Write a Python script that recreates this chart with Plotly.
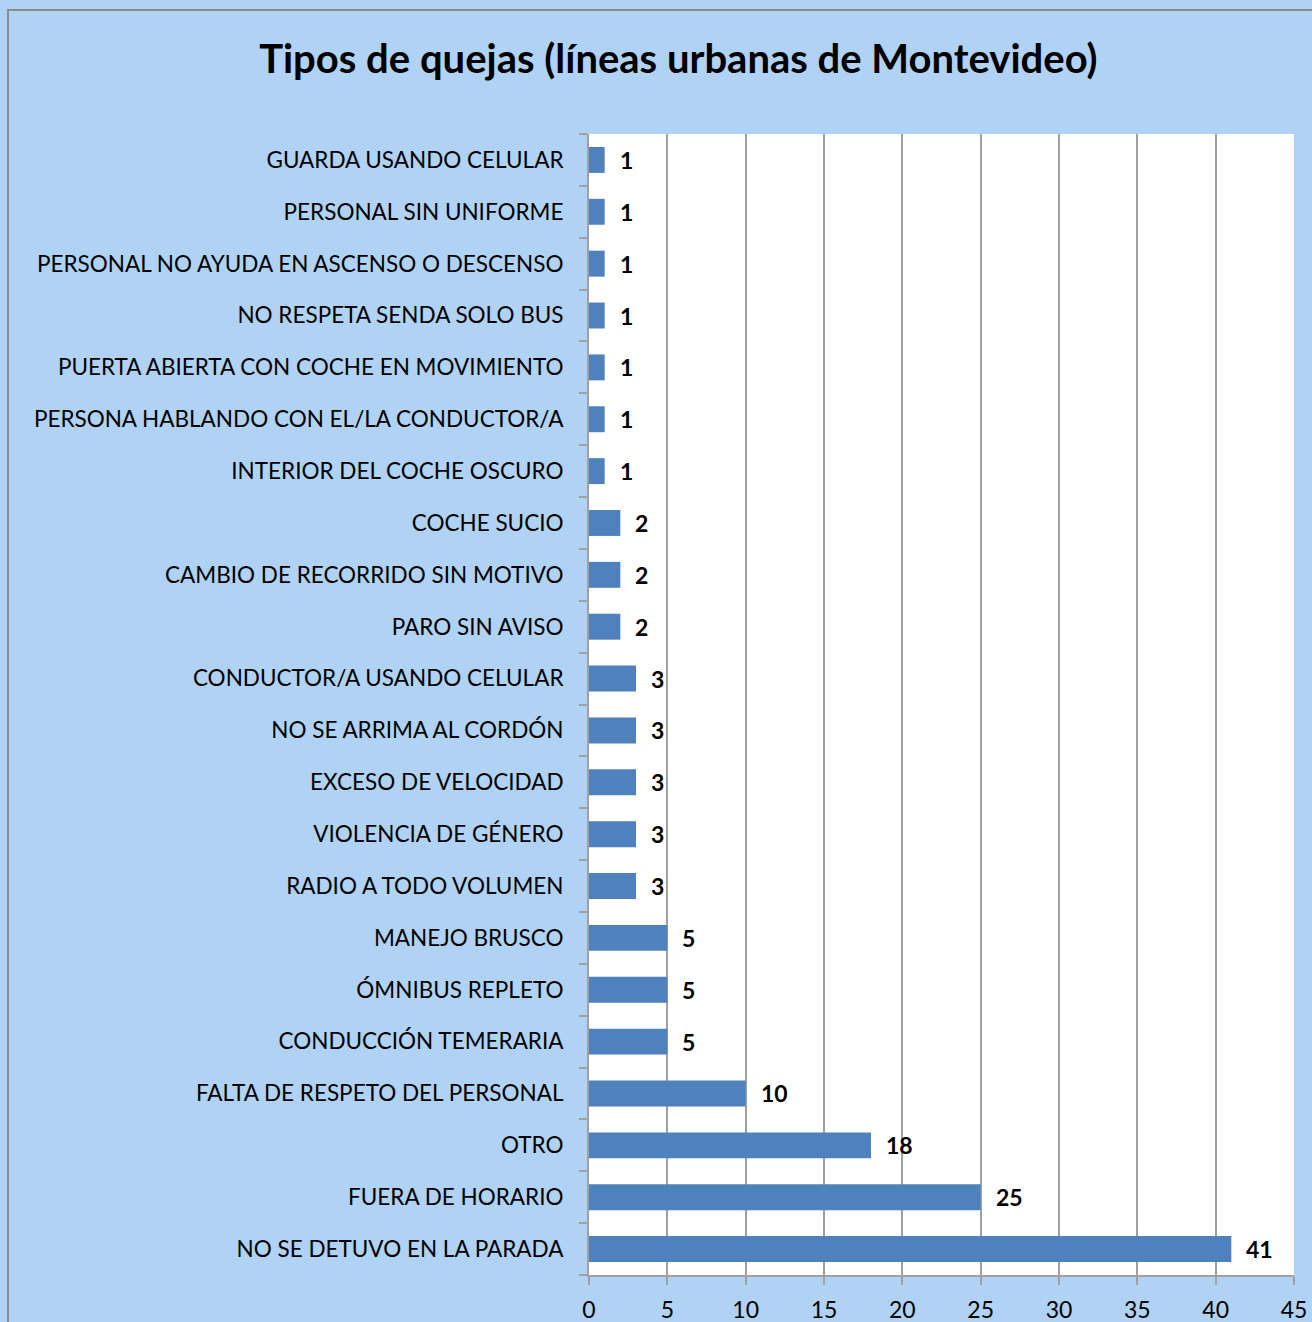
import plotly.graph_objects as go

categories = [
    "NO SE DETUVO EN LA PARADA",
    "FUERA DE HORARIO",
    "OTRO",
    "FALTA DE RESPETO DEL PERSONAL",
    "CONDUCCIÓN TEMERARIA",
    "ÓMNIBUS REPLETO",
    "MANEJO BRUSCO",
    "RADIO A TODO VOLUMEN",
    "VIOLENCIA DE GÉNERO",
    "EXCESO DE VELOCIDAD",
    "NO SE ARRIMA AL CORDÓN",
    "CONDUCTOR/A USANDO CELULAR",
    "PARO SIN AVISO",
    "CAMBIO DE RECORRIDO SIN MOTIVO",
    "COCHE SUCIO",
    "INTERIOR DEL COCHE OSCURO",
    "PERSONA HABLANDO CON EL/LA CONDUCTOR/A",
    "PUERTA ABIERTA CON COCHE EN MOVIMIENTO",
    "NO RESPETA SENDA SOLO BUS",
    "PERSONAL NO AYUDA EN ASCENSO O DESCENSO",
    "PERSONAL SIN UNIFORME",
    "GUARDA USANDO CELULAR",
]
values = [41, 25, 18, 10, 5, 5, 5, 3, 3, 3, 3, 3, 2, 2, 2, 1, 1, 1, 1, 1, 1, 1]
x_ticks = [0, 5, 10, 15, 20, 25, 30, 35, 40, 45]

FONT = "Lato"
BG = "#B0D2F4"

fig = go.Figure()
fig.add_trace(go.Bar(
    x=values, y=categories, orientation="h",
    marker=dict(color="#4F81BD", line=dict(width=0)),
    width=0.5, hoverinfo="x+y",
))

annotations = [
    dict(x=v, y=c, xref="x", yref="y", text=f"<b>{v}</b>", showarrow=False,
         xanchor="left", yanchor="middle", xshift=13,
         font=dict(family=FONT, size=23, color="black"))
    for c, v in zip(categories, values)
]

fig.update_layout(
    width=1312, height=1322,
    paper_bgcolor=BG, plot_bgcolor="white",
    margin=dict(l=589, r=18, t=134, b=47, pad=0, autoexpand=False),
    title=dict(text="<b>Tipos de quejas (líneas urbanas de Montevideo)</b>",
               x=0.517, xanchor="center", y=0.955, yanchor="middle",
               font=dict(family=FONT, size=40, color="black")),
    showlegend=False,
    bargap=0.5,
    annotations=annotations,
    shapes=[dict(type="rect", xref="paper", yref="paper",
                 x0=(8 - 589) / 705, x1=1.2, y0=-0.3, y1=(1275 - 10) / 1141,
                 line=dict(color="#8C8C8C", width=2), fillcolor="rgba(0,0,0,0)",
                 layer="below")],
    xaxis=dict(range=[0, 45], tickvals=x_ticks, ticktext=[str(t) for t in x_ticks],
               showgrid=True, gridcolor="#A0A0A0", gridwidth=2,
               showline=True, linecolor="#A0A0A0", linewidth=2,
               ticks="outside", ticklen=8, tickcolor="#A0A0A0", tickwidth=2,
               ticklabelstandoff=5, automargin=False,
               tickfont=dict(family=FONT, size=23, color="black"),
               zeroline=False, mirror=False, fixedrange=True),
    yaxis=dict(categoryorder="array", categoryarray=categories,
               showline=True, linecolor="#A0A0A0", linewidth=2,
               ticks="outside", ticklen=8, tickcolor="#A0A0A0", tickwidth=2,
               tickson="boundaries", ticklabelstandoff=19, automargin=False,
               tickfont=dict(family=FONT, size=22.5, color="black"),
               showgrid=False, fixedrange=True),
)

fig.write_html(
    "out.html",
    config={"displayModeBar": False},
    post_script="document.body.style.margin='0';document.body.style.overflow='hidden';",
)
